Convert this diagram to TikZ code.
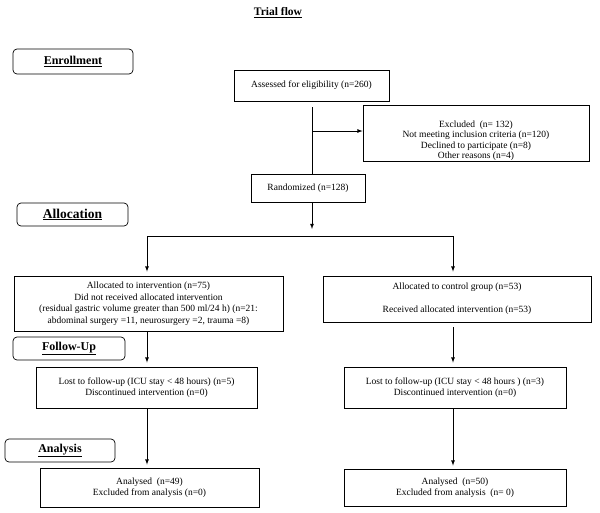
\documentclass[tikz,border=0pt]{standalone}
\usepackage{fontspec}
\setmainfont{Liberation Serif}

\begin{document}
\begin{tikzpicture}[x=1pt, y=-1pt,
        flowbox/.style={draw, line width=0.8pt, align=center, inner sep=0pt, font=\fontsize{9.5}{11.5}\selectfont},
        stagebox/.style={draw, line width=0.7pt, rounded corners=4pt, inner sep=0pt, font=\fontsize{12}{14}\selectfont\bfseries},
        arr/.style={-latex, line width=0.8pt}]
    \useasboundingbox (0, 0) rectangle (600, 512);

    \node (title) at (278, 13) {\fontsize{11.5}{13}\selectfont\bfseries\underline{Trial flow}};

    % stages on the left
    \node[stagebox, minimum width=120, minimum height=25] (enroll) at (73, 61.5) {\underline{Enrollment}};
    \node[stagebox, minimum width=111, minimum height=23, font=\fontsize{13.5}{15}\selectfont\bfseries] (alloc) at (72.5, 214.5) {\underline{Allocation}};
    \node[stagebox, minimum width=112, minimum height=23] (follow) at (69, 348.5) {\underline{Follow-Up}};
    \node[stagebox, minimum width=110, minimum height=23] (analysis) at (60, 450.5) {\underline{Analysis}};

    % boxes
    \node[flowbox, minimum width=155, minimum height=31] (assess) at (311.5, 85.5) {Assessed for eligibility (n=260)};
    \node[flowbox, minimum width=226, minimum height=56, font=\fontsize{9.5}{10.5}\selectfont] (excl) at (476, 133) {\rule{0pt}{22pt}Excluded\ \ (n= 132)\\Not meeting inclusion criteria (n=120)\\Declined to participate (n=8)\\Other reasons (n=4)};
    \node[flowbox, minimum width=114, minimum height=28] (rand) at (308, 188) {Randomized (n=128)};

    \node[flowbox, minimum width=269, minimum height=55] (ialloc) at (148.5, 303.5) {Allocated to intervention (n=75)\\Did not received allocated intervention\\(residual gastric volume greater than 500 ml/24 h) (n=21:\\abdominal surgery =11, neurosurgery =2, trauma =8)};
    \node[flowbox, minimum width=268, minimum height=46] (calloc) at (457, 299) {Allocated to control group (n=53)\\[11.5pt]Received allocated intervention (n=53)};

    \node[flowbox, minimum width=221, minimum height=41] (ifollow) at (146.5, 387.5) {Lost to follow-up (ICU stay \textless{} 48 hours) (n=5)\\Discontinued intervention (n=0)};
    \node[flowbox, minimum width=222, minimum height=41] (cfollow) at (455, 387.5) {Lost to follow-up (ICU stay \textless{} 48 hours ) (n=3)\\Discontinued intervention (n=0)};

    \node[flowbox, minimum width=219, minimum height=39] (iana) at (149.5, 487.5) {Analysed\ \ (n=49)\\Excluded from analysis (n=0)};
    \node[flowbox, minimum width=222, minimum height=37] (cana) at (455, 487.5) {Analysed\ \ (n=50)\\Excluded from analysis\ \ (n= 0)};

    \coordinate (exclfork) at (312, 131);
    \coordinate (randtip) at (312, 229);
    \coordinate (barL) at (147, 236);
    \coordinate (barR) at (453, 236);

    % connectors
    \draw[line width=0.8pt, shorten <=6pt] (assess.south -| exclfork) -- (rand.north -| exclfork);
    \draw[arr] (exclfork) -- (exclfork -| excl.west);
    \draw[arr] (rand.south -| randtip) -- (randtip);
    \draw[line width=0.8pt] (barL) -- (barR);
    \draw[arr, shorten >=4pt] (barL) -- (barL |- ialloc.north);
    \draw[arr, shorten >=4pt] (barR) -- (barR |- calloc.north);
    \draw[arr, shorten >=4pt] (barL |- ialloc.south) -- (barL |- ifollow.north);
    \draw[arr, shorten <=5pt, shorten >=4pt] (barR |- calloc.south) -- (barR |- cfollow.north);
    \draw[arr, shorten >=3pt] (barL |- ifollow.south) -- (barL |- iana.north);
    \draw[arr, shorten >=3pt] (barR |- cfollow.south) -- (barR |- cana.north);
\end{tikzpicture}
\end{document}
